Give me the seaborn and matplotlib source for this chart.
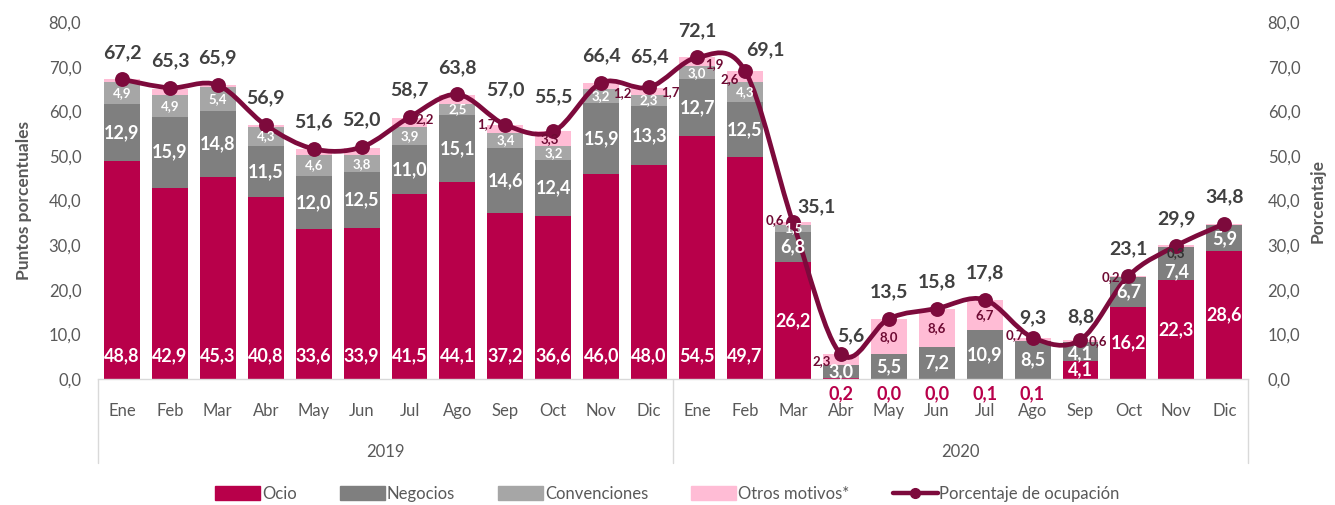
import matplotlib
matplotlib.use("Agg")
import matplotlib.pyplot as plt
import matplotlib.transforms as mtransforms
from matplotlib.lines import Line2D
from matplotlib.patches import Patch, PathPatch
from matplotlib.path import Path
import numpy as np
import pandas as pd
import seaborn as sns


MONTHS = ["Ene", "Feb", "Mar", "Abr", "May", "Jun", "Jul", "Ago", "Sep", "Oct", "Nov", "Dic"]
YEARS = ["2019", "2020"]

ocio = [48.8, 42.9, 45.3, 40.8, 33.6, 33.9, 41.5, 44.1, 37.2, 36.6, 46.0, 48.0,
        54.5, 49.7, 26.2, 0.2, 0.0, 0.0, 0.1, 0.1, 4.1, 16.2, 22.3, 28.6]
negocios = [12.9, 15.9, 14.8, 11.5, 12.0, 12.5, 11.0, 15.1, 14.6, 12.4, 15.9, 13.3,
            12.7, 12.5, 6.8, 3.0, 5.5, 7.2, 10.9, 8.5, 4.1, 6.7, 7.4, 5.9]
convenciones = [4.9, 4.9, 5.4, 4.3, 4.6, 3.8, 3.9, 2.5, 3.4, 3.2, 3.2, 2.3,
                3.0, 4.3, 1.5, 0.0, 0.0, 0.0, 0.0, 0.0, 0.0, 0.0, 0.0, 0.0]
otros = [0.6, 1.4, 0.4, 0.3, 1.4, 1.6, 2.2, 2.0, 1.7, 3.3, 1.2, 1.7,
         1.9, 2.6, 0.6, 2.3, 8.0, 8.6, 6.7, 0.7, 0.6, 0.2, 0.3, 0.3]
ocupacion = [67.2, 65.3, 65.9, 56.9, 51.6, 52.0, 58.7, 63.8, 57.0, 55.5, 66.4, 65.4,
             72.1, 69.1, 35.1, 5.6, 13.5, 15.8, 17.8, 9.3, 8.8, 23.1, 29.9, 34.8]

# which "otros" values carry a label (index -> (dx px, dy px) shift from segment centre)
OTROS_LABELS = {6: (15, 3), 8: (-19, 5), 9: (-4, 0), 10: (21, -7), 11: (21, -1),
                12: (17, -2), 13: (-15, -2), 14: (-18, 4), 15: (-19, -1),
                16: (0, 0), 17: (0, 0), 18: (0, 0), 19: (-18, 4), 20: (17, 0),
                21: (-18, -1), 22: (0, -7)}
# occupancy label offsets in px (default is straight up)
OCC_OFFSETS = {8: (0, 35), 9: (0, 35), 11: (0, 31), 13: (20, 21), 14: (24, 16),
               15: (10, 18), 19: (0, 20), 20: (0, 23)}
# negocios label nudges in px
NEG_OFFSETS = {20: -2, 22: -9}

C_OCIO = "#B8004A"
C_NEG = "#7F7F7F"
C_CONV = "#A6A6A6"
C_OTROS = "#FFBCD5"
C_LINE = "#7D0A3C"
C_LABEL = "#6E0A33"
C_TEXT = "#595959"

sns.set_theme(style="white")
plt.rcParams["font.family"] = ["Lato", "DejaVu Sans"]

df = pd.DataFrame({
    "pos": np.arange(len(ocio)),
    "ocio": ocio,
    "negocios": negocios,
    "convenciones": convenciones,
    "otros": otros,
    "ocupacion": ocupacion,
})
df["b_neg"] = df["ocio"]
df["b_conv"] = df["b_neg"] + df["negocios"]
df["b_otros"] = df["b_conv"] + df["convenciones"]

fig = plt.figure(figsize=(13.35, 5.05), dpi=100)
ax = fig.add_axes([0.0734, 0.2495, 0.8616, 0.7065])

layers = [("ocio", None, C_OCIO), ("negocios", "b_neg", C_NEG),
          ("convenciones", "b_conv", C_CONV), ("otros", "b_otros", C_OTROS)]
for col, base, color in layers:
    bottom = 0 if base is None else df[base].values
    sns.barplot(data=df, x="pos", y=col, native_scale=True, width=0.75, color=color,
                bottom=bottom, errorbar=None, linewidth=0, saturation=1, ax=ax)

# smooth occupancy line (Bezier through the data points, like the spreadsheet smoothing)
pts = df[["pos", "ocupacion"]].values.astype(float)
verts = [tuple(pts[0])]
codes = [Path.MOVETO]
for i in range(len(pts) - 1):
    p0 = pts[i - 1] if i > 0 else pts[i]
    p1, p2 = pts[i], pts[i + 1]
    p3 = pts[i + 2] if i + 2 < len(pts) else pts[i + 1]
    c1 = p1 + (p2 - p0) / 6
    c2 = p2 - (p3 - p1) / 6
    verts += [tuple(c1), tuple(c2), tuple(p2)]
    codes += [Path.CURVE4] * 3
ax.add_patch(PathPatch(Path(verts, codes), fill=False, edgecolor=C_LINE, lw=3.4,
                       capstyle="round", joinstyle="round", zorder=4))
sns.scatterplot(data=df, x="pos", y="ocupacion", color=C_LINE, s=115, linewidth=0,
                zorder=5, ax=ax, legend=False)

ax.set_xlim(-0.5, len(ocio) - 0.5)
ax.set_ylim(0, 80)
ax.set_yticks(range(0, 81, 10))
ax.set_yticklabels([f"{v:.1f}".replace(".", ",") for v in range(0, 81, 10)],
                   fontsize=12, color=C_TEXT)
ax.set_xticks(df["pos"])
ax.set_xticklabels(MONTHS * 2, fontsize=12, color=C_TEXT)
ax.tick_params(axis="x", length=0, pad=17)
ax.tick_params(axis="y", length=0, pad=12)
ax.set_xlabel("")
ax.set_ylabel("Puntos porcentuales", fontsize=12.5, fontweight="bold", color=C_TEXT, labelpad=12)
for side in ["top", "right", "left"]:
    ax.spines[side].set_visible(False)
ax.spines["bottom"].set_color("#D9D9D9")
ax.spines["bottom"].set_linewidth(1)

ax2 = ax.twinx()
ax2.set_ylim(0, 80)
ax2.set_yticks(range(0, 81, 10))
ax2.set_yticklabels([f"{v:.1f}".replace(".", ",") for v in range(0, 81, 10)],
                    fontsize=12, color=C_TEXT)
ax2.tick_params(axis="y", length=0, pad=14)
ax2.set_ylabel("Porcentaje", fontsize=12.5, fontweight="bold", color=C_TEXT, labelpad=7)
for side in ["top", "right", "left", "bottom"]:
    ax2.spines[side].set_visible(False)

# year group labels and separators under the month axis
trans = mtransforms.blended_transform_factory(ax.transData, ax.transAxes)
for x in [-0.5, 11.5, 23.5]:
    ax.plot([x, x], [0, -0.235], transform=trans, color="#D9D9D9", lw=1, clip_on=False)
for k, year in enumerate(YEARS):
    ax.text(5.5 + 12 * k, -0.204, year, transform=trans, ha="center", va="center",
            fontsize=12, color=C_TEXT)

px = 0.72  # points per pixel at dpi 100
ax_off = dict(textcoords="offset points", ha="center", va="center", fontweight="bold")

for i, row in df.iterrows():
    # ocio
    if i < 14:
        ax.annotate(f"{row.ocio:.1f}".replace(".", ","), (i, 5.2), color="white",
                    fontsize=13, **ax_off, xytext=(0, 0), zorder=6)
    elif row.ocio < 1:
        ax.annotate(f"{row.ocio:.1f}".replace(".", ","), (i, 0), color=C_OCIO,
                    fontsize=13, **ax_off, xytext=(0, -15 * px), annotation_clip=False)
    else:
        ax.annotate(f"{row.ocio:.1f}".replace(".", ","), (i, row.ocio / 2), color="white",
                    fontsize=13, **ax_off, xytext=(0, 0), zorder=6)
    # negocios
    ax.annotate(f"{row.negocios:.1f}".replace(".", ","), (i, row.b_neg + row.negocios / 2),
                color="white", fontsize=13, **ax_off,
                xytext=(0, NEG_OFFSETS.get(i, 0) * px), zorder=6)
    # convenciones
    if row.convenciones >= 1:
        ax.annotate(f"{row.convenciones:.1f}".replace(".", ","),
                    (i, row.b_conv + row.convenciones / 2), color="white",
                    fontsize=9.5, **ax_off, xytext=(0, 0), zorder=6)
    # otros motivos
    if i in OTROS_LABELS:
        dx, dy = OTROS_LABELS[i]
        ax.annotate(f"{row.otros:.1f}".replace(".", ","), (i, row.b_otros + row.otros / 2),
                    color="#333333" if i == 22 else C_LABEL, fontsize=9.5, **ax_off,
                    xytext=(dx * px, dy * px), zorder=6)
    # occupancy
    dx, dy = OCC_OFFSETS.get(i, (0, 27))
    ax.annotate(f"{row.ocupacion:.1f}".replace(".", ","), (i, row.ocupacion),
                color="#404040", fontsize=14, **ax_off, xytext=(dx * px, dy * px),
                zorder=6, annotation_clip=False)

handles = [Patch(color=C_OCIO, label="Ocio"), Patch(color=C_NEG, label="Negocios"),
           Patch(color=C_CONV, label="Convenciones"), Patch(color=C_OTROS, label="Otros motivos*"),
           Line2D([0], [0], color=C_LINE, lw=3.2, marker="o", markersize=7,
                  label="Porcentaje de ocupación")]
leg = fig.legend(handles=handles, loc="center", bbox_to_anchor=(0.5, 0.022), ncol=5,
                 frameon=False, fontsize=12, handlelength=2.7, handleheight=0.9,
                 handletextpad=0.1, columnspacing=2.6)
for t in leg.get_texts():
    t.set_color(C_TEXT)

fig.savefig("out.png", dpi=100)
